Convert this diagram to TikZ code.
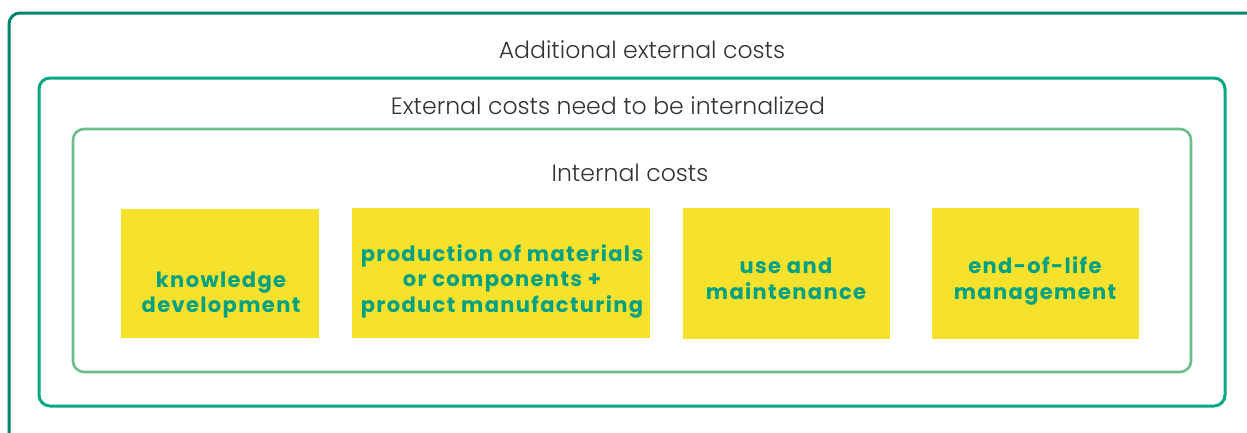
\documentclass[tikz,border=0pt]{standalone}
\usepackage{fontspec}
\setmainfont{Poppins}
\IfFontExistsTF{Poppins Light}{\newfontfamily\ttlfont{Poppins Light}}{\newfontfamily\ttlfont{Poppins}}
\newfontfamily\boxfont{Poppins}[LetterSpace=6.5]
\definecolor{outerc}{HTML}{00846C}
\definecolor{midc}{HTML}{00A884}
\definecolor{innerc}{HTML}{6CBF8C}
\definecolor{boxy}{HTML}{F6E22C}
\definecolor{boxt}{HTML}{00A082}
\definecolor{titlec}{HTML}{333333}
\begin{document}
\begin{tikzpicture}[x=1pt,y=-1pt,
  frame/.style={line width=3pt,rounded corners=11pt},
  ybox/.style={fill=boxy,draw=none,inner sep=0pt,anchor=north west},
  ytext/.style={text=boxt,font=\boxfont\fontsize{21}{25.5}\selectfont\bfseries,align=center,inner sep=0pt},
  ttl/.style={text=titlec,font=\ttlfont\fontsize{23.6}{25}\selectfont,inner sep=0pt}]
\clip (0,0) rectangle (1247,432);
\fill[white] (0,0) rectangle (1247,432);
\draw[frame,draw=outerc] (9,13) rectangle (1270,460);
\draw[frame,draw=midc] (39,78) rectangle (1225,406);
\draw[frame,draw=innerc,line width=2.6pt] (73,129) rectangle (1191,372);
\node[ttl] (t1) at (642,50) {Additional external costs};
\node[ttl] (t2) at (608,106) {External costs need to be internalized};
\node[ttl] (t3) at (630,173) {Internal costs};
\node[ybox,minimum width=198pt,minimum height=129pt] (b1) at (121,209) {};
\node[ybox,minimum width=298pt,minimum height=130pt] (b2) at (352,208) {};
\node[ybox,minimum width=207pt,minimum height=131pt] (b3) at (683,208) {};
\node[ybox,minimum width=207pt,minimum height=131pt] (b4) at (932,208) {};
\node[ytext] (l1) at (221,295) {knowledge\\development};
\node[ytext] (l2) at (502,281) {production of materials\\or components +\\product manufacturing};
\node[ytext] (l3) at (786,279) {use and\\maintenance};
\node[ytext] (l4) at (1035,281) {end-of-life\\management};
\end{tikzpicture}
\end{document}
